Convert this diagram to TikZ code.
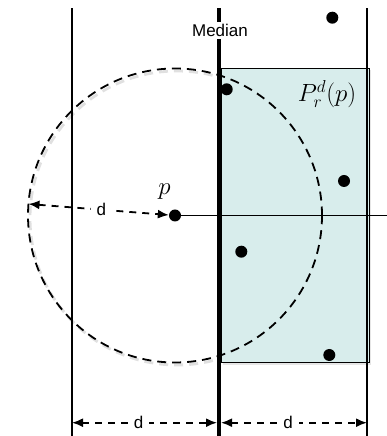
\documentclass[tikz,border=0pt]{standalone}
\usepackage{fontspec}
\setmainfont{Liberation Sans}
\usetikzlibrary{arrows.meta,shadows}
\definecolor{cellfill}{RGB}{216,237,236}

\begin{document}
\begin{tikzpicture}[x=10pt, y=10pt, >={Latex[length=11pt,width=9pt]},
  font=\fontsize{17}{20}\selectfont,
  strip/.style={line width=1.5pt},
  median/.style={line width=3.8pt},
  dot/.style={circle, fill, inner sep=0pt, minimum size=12pt},
  dist/.style={<->, line width=1.8pt, dash pattern=on 7pt off 6pt},
  lab/.style={fill=white, inner sep=6pt, pos=0.46},
  mathlbl/.style={font=\fontsize{24}{28}\selectfont}]
  \useasboundingbox (0,0) rectangle (38.7,43.6);
  \node[dot] (p) at (17.5,22.05) {};
  \coordinate (tip) at (2.85,23.2);
  \coordinate (hx)  at (38.7,22.05);
  \coordinate (bl)  at (7.2,1.33);
  \coordinate (bm1) at (21.7,1.33);
  \coordinate (bm2) at (22.1,1.33);
  \coordinate (br)  at (36.7,1.33);
  \draw[black!12, line width=2.8pt, dash pattern=on 9pt off 6pt]
    ([shift={(0.2,-0.25)}]p.center) circle[radius=14.7];
  \draw[fill=cellfill, line width=1pt,
    drop shadow={opacity=0.2, shadow xshift=2pt, shadow yshift=-2pt}]
    (22.1,7.33) rectangle (36.9,36.77);
  \draw[line width=1.8pt, dash pattern=on 9pt off 6pt] (p.center) circle[radius=14.7];
  \draw[strip] (7.2,0) -- (7.2,42.75);
  \draw[strip] (36.7,0) -- (36.7,42.75);
  \draw[median] (21.9,0) -- (21.9,42.75);
  \draw[strip] (p) -- (hx);
  \node[fill=white, inner xsep=7pt, inner ysep=2pt] (mlab) at (22.0,40.57) {Median};
  \node[mathlbl] (plab) at (32.7,34.2) {$P_r^d(p)$};
  \node[mathlbl] (pname) at (16.45,24.4) {$p$};
  \node[dot] (q1) at (33.23,41.83) {};
  \node[dot] (q2) at (22.67,34.67) {};
  \node[dot] (q3) at (34.4,25.5) {};
  \node[dot] (q4) at (24.13,18.43) {};
  \node[dot] (q5) at (32.93,8.1) {};
  \draw[dist] (tip) -- (p) node[lab, pos=0.52] {d};
  \draw[dist] (bl) -- (bm1) node[lab] {d};
  \draw[dist] (bm2) -- (br) node[lab] {d};
\end{tikzpicture}
\end{document}
